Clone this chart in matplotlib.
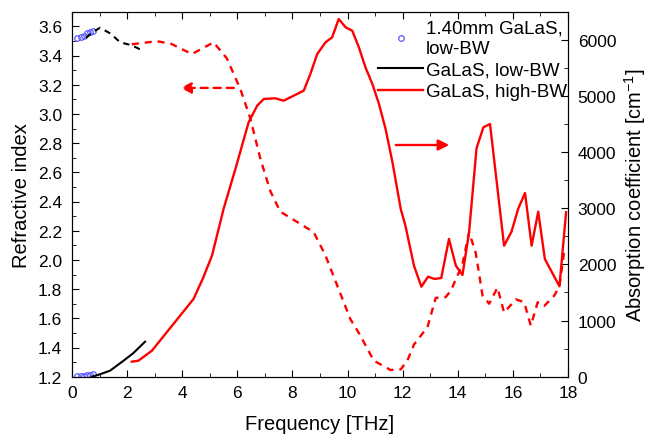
import numpy as np
import matplotlib
matplotlib.use("Agg")
import matplotlib.pyplot as plt
from matplotlib.ticker import MultipleLocator

plt.rcParams['font.family'] = ['Liberation Sans', 'DejaVu Sans']
plt.rcParams['mathtext.fontset'] = 'custom'
plt.rcParams['mathtext.rm'] = 'Liberation Sans'

# 1.40mm GaLaS, low-BW (circles)
f_circ = [0.19, 0.32, 0.44, 0.56, 0.65, 0.75]
n_circ = [3.521, 3.528, 3.535, 3.551, 3.562, 3.571]
a_circ = [10, 12, 15, 22, 30, 40]

# GaLaS, low-BW
f_low_n = [0.5, 0.75, 1.02, 1.4, 1.75, 2.17, 2.6]
n_low = [3.52, 3.56, 3.59, 3.55, 3.49, 3.47, 3.43]
f_low_a = [0.72, 1.0, 1.38, 1.87, 2.23, 2.65]
a_low = [0, 40, 107, 285, 422, 623]

# GaLaS, high-BW refractive index (dashed)
f_high_n = [2.17, 3.08, 3.6, 4.35, 5.14, 5.62, 6.11, 6.47, 6.84, 7.2, 7.56, 8.17,
            8.77, 9.2, 10.1, 10.47, 10.95, 11.56, 11.93, 12.17, 12.41, 12.9,
            13.2, 13.56, 13.75, 14.17, 14.41, 14.65, 14.9, 15.14, 15.44, 15.68,
            16.11, 16.41, 16.65, 16.9, 17.14, 17.5, 17.69, 17.87]
n_high = [3.477, 3.498, 3.48, 3.41, 3.49, 3.38, 3.17, 2.97, 2.69, 2.47, 2.33, 2.26,
          2.19, 2.03, 1.595, 1.48, 1.31, 1.246, 1.25, 1.31, 1.42, 1.54,
          1.74, 1.745, 1.79, 1.97, 2.19, 2.05, 1.755, 1.70, 1.81, 1.64,
          1.73, 1.71, 1.55, 1.71, 1.685, 1.755, 1.82, 2.07]

# GaLaS, high-BW absorption (solid)
f_high_a = [2.17, 2.41, 2.9, 3.5, 4.0, 4.41, 4.75, 5.08, 5.5, 5.93, 6.41, 6.72,
            6.96, 7.38, 7.68, 8.17, 8.41, 8.65, 8.9, 9.2, 9.44, 9.68, 9.93,
            10.17, 10.41, 10.65, 10.9, 11.14, 11.38, 11.63, 11.93, 12.1, 12.41,
            12.68, 12.92, 13.16, 13.4, 13.68, 13.93, 14.17, 14.41, 14.68, 14.93,
            15.17, 15.68, 15.95, 16.19, 16.44, 16.68, 16.92, 17.16, 17.69, 17.93]
a_high = [267, 285, 463, 829, 1134, 1384, 1750, 2155, 2987, 3699, 4531, 4826,
          4946, 4958, 4915, 5035, 5094, 5391, 5747, 5955, 6044, 6370, 6222,
          6162, 5866, 5510, 5213, 4857, 4412, 3818, 2987, 2689, 1977,
          1603, 1781, 1740, 1758, 2452, 1977, 1811, 2571, 4068, 4442,
          4500, 2333, 2583, 2987, 3272, 2333, 2939, 2096, 1610, 2928]

fig = plt.figure(figsize=(6.47, 4.35), dpi=100)
ax = fig.add_axes([72/647, 1-377.7/435, (568-72)/647, (377.7-12.7)/435])
ax2 = ax.twinx()

blue = '#5a5aff'
ax.plot(f_circ, n_circ, 'o', ms=4, mfc='none', mec=blue, mew=0.9)
ax.plot(f_low_n, n_low, color='black', lw=1.5, ls=(0, (3, 2.5)))
ax.plot(f_high_n, n_high, color='red', lw=1.7, ls=(0, (3, 2.5)))

h1, = ax2.plot(f_circ, a_circ, 'o', ms=4, mfc='none', mec=blue, mew=0.9)
h2, = ax2.plot(f_low_a, a_low, color='black', lw=1.5)
h3, = ax2.plot(f_high_a, a_high, color='red', lw=1.7)

ax.annotate('', xy=(3.93, 3.178), xytext=(5.87, 3.178),
            arrowprops=dict(arrowstyle='-|>', color='red', lw=1.7,
                            linestyle=(0, (3, 2.5)), mutation_scale=16,
                            shrinkA=0, shrinkB=0))
ax2.annotate('', xy=(13.69, 4126), xytext=(11.75, 4126),
             arrowprops=dict(arrowstyle='-|>', color='red', lw=1.7,
                             mutation_scale=16, shrinkA=0, shrinkB=0))

ax.set_xlim(0, 18)
ax.set_ylim(1.2, 3.7)
ax2.set_ylim(0, 6500)
ax.xaxis.set_major_locator(MultipleLocator(2))
ax.xaxis.set_minor_locator(MultipleLocator(1))
ax.yaxis.set_major_locator(MultipleLocator(0.2))
ax.yaxis.set_minor_locator(MultipleLocator(0.1))
ax.yaxis.set_major_formatter(matplotlib.ticker.FormatStrFormatter('%.1f'))
ax2.yaxis.set_major_locator(MultipleLocator(1000))
ax2.yaxis.set_minor_locator(MultipleLocator(500))

ax.tick_params(which='both', direction='in', top=True, labelsize=12.5)
ax.tick_params(which='major', length=5)
ax.tick_params(which='minor', length=3)
ax.tick_params(axis='y', pad=7)
ax.tick_params(axis='x', pad=6)
ax2.tick_params(which='both', direction='in', labelsize=12.5, pad=7)
ax2.tick_params(which='major', length=5)
ax2.tick_params(which='minor', length=3)

ax.set_xlabel('Frequency [THz]', fontsize=14.5, labelpad=10)
ax.set_ylabel('Refractive index', fontsize=14.5, labelpad=5)
ax2.set_ylabel('Absorption coefficient [cm$^{-1}$]', fontsize=14.5, labelpad=4)

fig.legend([h1, h2, h3], ['1.40mm GaLaS,\nlow-BW', 'GaLaS, low-BW', 'GaLaS, high-BW'],
           loc='upper left', bbox_to_anchor=(378/647, 1-21/435), frameon=False,
           fontsize=13.5, handlelength=2.4, handletextpad=0.15, borderpad=0,
           borderaxespad=0, labelspacing=0.25)

fig.savefig('out.png', dpi=100)
